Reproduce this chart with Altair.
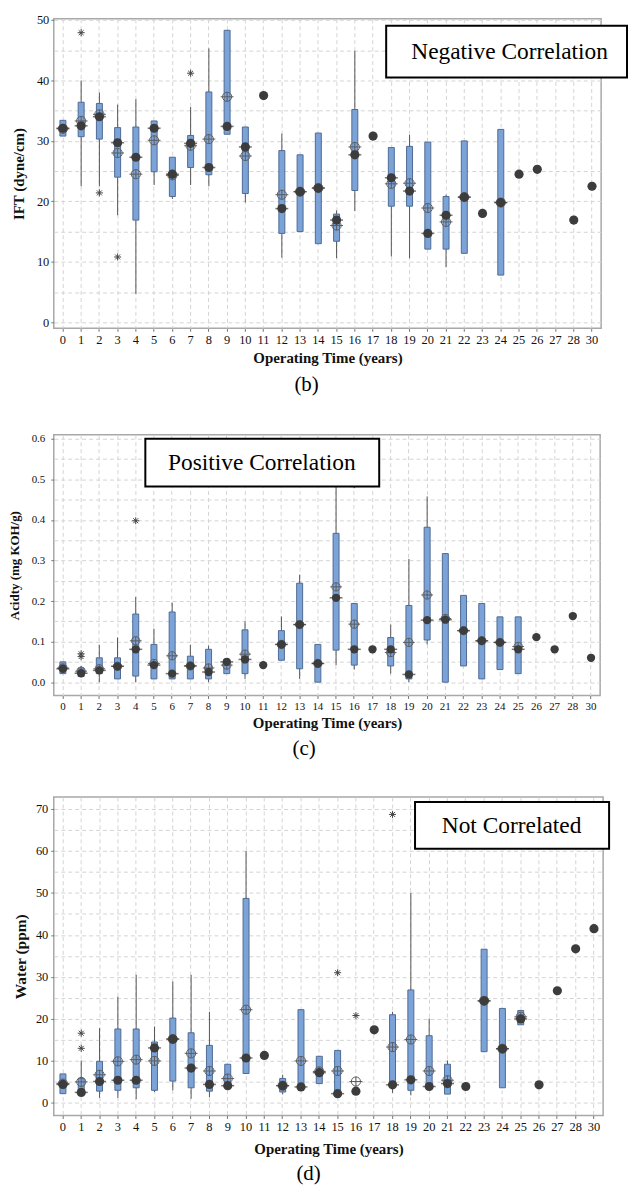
import altair as alt
import pandas as pd

SERIF = "Liberation Serif"

cats = [str(i) for i in range(29)] + ["30"]

# ---------------- Panel (b): IFT ----------------
b_lo = [30.8, 22.5, 22.5, 17.7, 4.7, 22.7, 20.4, 22.7, 22.5, 31.1, 19.8, None, 10.7, 15.0, 13.0, 10.6, 18.4, None,
        10.9, 10.6, 12.1, 9.1, 11.4, None, 7.8, None, None, None, None, None]
b_q1 = [30.8, 30.7, 30.3, 24.0, 16.9, 24.9, 20.8, 25.6, 24.4, 31.1, 21.3, None, 14.7, 15.0, 13.0, 13.4, 21.8, None,
        19.2, 19.2, 12.1, 12.1, 11.4, None, 7.8, None, None, None, None, None]
b_q3 = [33.4, 36.4, 36.2, 32.2, 32.3, 33.3, 27.3, 30.9, 38.1, 48.3, 32.3, None, 28.4, 27.7, 31.3, 17.9, 35.2, None,
        28.9, 29.1, 29.8, 20.8, 30.0, None, 31.9, None, None, None, None, None]
b_hi = [33.4, 40.0, 38.0, 36.0, 36.9, 33.3, 27.3, 35.6, 45.3, 48.3, 32.3, None, 31.2, 27.7, 31.3, 18.5, 44.9, None,
        28.9, 31.0, 29.8, 21.1, 30.0, None, 31.9, None, None, None, None, None]
b_med = [32.1, 32.5, 34.0, 29.7, 27.3, 32.1, 24.5, 29.6, 25.6, 32.4, 29.0, 37.5, 18.8, 21.6, 22.2, 16.9, 27.7, 30.8,
         23.9, 21.7, 14.7, 17.7, 20.7, 18.0, 19.8, 24.5, 25.3, None, 16.9, 22.5]
b_mean = [32.0, 33.3, 34.4, 28.0, 24.5, 30.1, 24.3, 29.2, 30.3, 37.3, 27.5, None, 21.1, 21.6, 22.2, 16.0, 29.0, None,
          22.9, 23.0, 18.9, 16.6, 20.7, None, 19.8, None, None, None, None, None]
b_out_cat = ["1", "2", "3", "7"]
b_out_val = [47.9, 21.4, 10.8, 41.2]
b_ticks = [0, 5, 10, 15, 20, 25, 30, 35, 40, 45, 50]

# ---------------- Panel (c): Acidity ----------------
c_lo = [0.021, 0.012, 0.0, 0.008, 0.0, 0.008, 0.008, 0.008, 0.0, 0.021, 0.008, None, 0.054, 0.008, 0.0, 0.042, 0.031,
        None, 0.021, 0.0, 0.093, 0.0, 0.04, 0.008, 0.031, 0.021, None, None, None, None]
c_q1 = [0.021, 0.014, 0.021, 0.008, 0.015, 0.008, 0.008, 0.008, 0.008, 0.021, 0.021, None, 0.054, 0.033, 0.0, 0.079,
        0.042, None, 0.04, 0.008, 0.104, 0.0, 0.04, 0.008, 0.031, 0.021, None, None, None, None]
c_q3 = [0.05, 0.035, 0.06, 0.06, 0.168, 0.093, 0.173, 0.064, 0.081, 0.057, 0.129, None, 0.127, 0.244, 0.093, 0.367,
        0.194, None, 0.11, 0.189, 0.382, 0.317, 0.214, 0.194, 0.161, 0.161, None, None, None, None]
c_hi = [0.05, 0.04, 0.092, 0.11, 0.21, 0.132, 0.196, 0.092, 0.09, 0.057, 0.15, None, 0.162, 0.265, 0.093, 0.49,
        0.194, None, 0.142, 0.304, 0.458, 0.317, 0.214, 0.194, 0.161, 0.161, None, None, None, None]
c_med = [0.033, 0.022, 0.029, 0.039, 0.081, 0.042, 0.021, 0.04, 0.025, 0.05, 0.056, 0.042, 0.093, 0.142, 0.046, 0.208,
         0.081, 0.081, 0.081, 0.019, 0.153, 0.154, 0.127, 0.102, 0.098, 0.081, 0.111, 0.081, 0.163, 0.06]
c_mean = [0.035, 0.027, 0.033, 0.039, 0.102, 0.046, 0.065, 0.04, 0.035, 0.042, 0.069, None, 0.093, 0.142, 0.046,
          0.235, 0.143, None, 0.073, 0.098, 0.215, 0.157, 0.127, 0.102, 0.098, 0.088, None, None, None, None]
c_out_cat = ["1", "1", "4", "16"]
c_out_val = [0.07, 0.063, 0.398, 0.487]
c_ticks = [0.0, 0.05, 0.1, 0.15, 0.2, 0.25, 0.3, 0.35, 0.4, 0.45, 0.5, 0.55, 0.6]

# ---------------- Panel (d): Water ----------------
d_lo = [2.2, 2.0, 1.2, 1.2, 0.9, 2.6, 3.0, 1.0, 1.4, 4.0, 7.0, None, 2.0, 3.8, 4.6, 2.0, None, None, 2.4, 1.8, 3.8,
        2.1, None, 12.2, 3.6, 18.6, None, None, None, None]
d_q1 = [2.2, 3.0, 2.8, 3.0, 3.6, 3.0, 5.2, 3.6, 2.8, 4.0, 7.0, None, 2.6, 3.8, 4.6, 2.0, None, None, 3.8, 3.0, 3.8,
        2.1, None, 12.2, 3.6, 18.6, None, None, None, None]
d_q3 = [6.9, 5.8, 9.9, 17.6, 17.6, 14.5, 20.2, 16.7, 13.7, 9.2, 48.7, None, 5.8, 22.2, 11.1, 12.5, None, None, 21.0,
        26.9, 16.0, 9.2, None, 36.6, 22.5, 22.0, None, None, None, None]
d_hi = [6.9, 10.1, 17.8, 25.3, 30.5, 18.2, 28.9, 30.5, 21.7, 9.2, 60.0, None, 6.7, 22.2, 11.1, 12.5, None, None, 21.7,
        50.0, 20.1, 10.1, None, 36.6, 22.5, 22.0, None, None, None, None]
d_med = [4.4, 2.5, 5.1, 5.4, 5.4, 13.1, 15.2, 8.3, 4.4, 4.1, 10.7, 11.3, 4.1, 3.8, 7.2, 2.2, 2.8, 17.4, 4.3, 5.5, 3.9,
         4.6, 3.9, 24.3, 12.9, 20.0, 4.3, 26.7, 36.7, 41.5]
d_mean = [4.6, 5.0, 6.7, 9.9, 10.3, 10.0, 15.2, 11.8, 7.6, 5.8, 22.2, None, 4.1, 10.0, 7.5, 7.6, 5.1, None, 13.3, 15.1,
          7.6, 5.4, None, 24.3, 12.9, 20.5, None, None, None, None]
d_out_cat = ["1", "1", "15", "16", "18"]
d_out_val = [16.6, 13.0, 31.0, 20.8, 68.7]
d_ticks = [0, 5, 10, 15, 20, 25, 30, 35, 40, 45, 50, 55, 60, 65, 70]

MEAN_SHAPE = "M-1,0A1,1,0,1,1,1,0A1,1,0,1,1,-1,0M-1.4,0L1.4,0M0,-1L0,1"
AST_SHAPE = "M-1,0L1,0M0,-1L0,1M-0.7,-0.7L0.7,0.7M-0.7,0.7L0.7,-0.7"
GRID = "#d4d4d4"


def panel(lo, q1, q3, hi, med, mean, out_cat, out_val, ticks, ydom, major_test, label_fmt, ytitle,
          w, h, lab_fs, lab_pad, ytitle_fs, ytitle_pad, xtitle_pad, dot, note, note_box, caption, cap_dx, cap_off):
    df = pd.DataFrame({"cat": cats, "lo": lo, "q1": q1, "q3": q3, "hi": hi, "med": med, "avg": mean})
    odf = pd.DataFrame({"cat": out_cat, "val": out_val})
    xs = alt.Scale(domain=cats, paddingInner=0, paddingOuter=0)
    ys = alt.Scale(domain=ydom, nice=False, zero=False)
    xaxis = alt.Axis(title="Operating Time (years)", labelAngle=0, bandPosition=0.5, grid=True,
                     gridDash=[4, 3], gridColor=GRID, domain=False, tickSize=3, tickColor="#777",
                     labelFont=SERIF, labelFontSize=lab_fs, labelColor="#111", labelPadding=2,
                     titleFont=SERIF, titleFontSize=15, titleFontWeight="bold", titleColor="#111",
                     titlePadding=xtitle_pad)
    yaxis = alt.Axis(title=ytitle, values=ticks, grid=True, gridDash=[4, 3], gridColor=GRID, domain=False,
                     tickSize=3, tickColor="#777",
                     tickOpacity={"condition": {"test": major_test, "value": 1}, "value": 0},
                     labelExpr=f"{major_test} ? format(datum.value, '{label_fmt}') : ''",
                     labelOverlap=False, labelFlush=False, labelFont=SERIF, labelFontSize=lab_fs,
                     labelColor="#111", labelPadding=lab_pad, titleFont=SERIF, titleFontSize=ytitle_fs,
                     titleFontWeight="bold", titleColor="#111", titlePadding=ytitle_pad)

    def X():
        return alt.X("cat:N", sort=cats, scale=xs, axis=xaxis)

    def Y(f):
        return alt.Y(f"{f}:Q", scale=ys, axis=yaxis)

    base = alt.Chart(df)
    whisk = base.transform_filter("isValid(datum.lo)").mark_rule(color="#555555", strokeWidth=1).encode(
        x=X(), y=Y("lo"), y2="hi:Q")
    box = base.transform_filter("isValid(datum.q1)").mark_bar(
        size=6, fill="#7ba3d8", stroke="#4f6b93", strokeWidth=1).encode(x=X(), y=Y("q1"), y2="q3:Q")
    meanm = base.transform_filter("isValid(datum.avg)").mark_point(
        shape=MEAN_SHAPE, size=dot, filled=False, color="#5c5c5c", strokeWidth=1, opacity=1).encode(
        x=X(), y=Y("avg"))
    medtick = base.transform_filter("isValid(datum.q1)").mark_tick(
        size=13, thickness=1.5, color="#3a3a3a").encode(x=X(), y=Y("med"))
    medm = base.transform_filter("isValid(datum.med)").mark_point(
        shape="circle", size=dot, filled=True, color="#3c3c3c", opacity=1).encode(x=X(), y=Y("med"))
    outm = alt.Chart(odf).mark_point(shape=AST_SHAPE, size=50, filled=False, color="#444444",
                                     strokeWidth=1, opacity=1).encode(x=X(), y=Y("val"))
    nd = alt.Data(values=[{"t": note}])
    x0, x1, y0, y1, tx, ty = note_box
    rect = alt.Chart(nd).mark_rect(fill="white", stroke="black", strokeWidth=2).encode(
        x=alt.value(x0), x2=alt.value(x1), y=alt.value(y0), y2=alt.value(y1))
    txt = alt.Chart(nd).mark_text(font=SERIF, fontSize=23.5, color="black", baseline="middle",
                                  align="center").encode(x=alt.value(tx), y=alt.value(ty), text="t:N")
    return alt.layer(whisk, box, meanm, medtick, medm, outm, rect, txt).properties(
        width=w, height=h,
        title=alt.TitleParams(text=caption, orient="bottom", font=SERIF, fontSize=21, fontWeight="normal",
                              color="black", dx=cap_dx, offset=cap_off))


pb = panel(b_lo, b_q1, b_q3, b_hi, b_med, b_mean, b_out_cat, b_out_val, b_ticks, [-1, 50.2],
           "datum.value % 10 === 0", ".0f", "IFT (dyne/cm)", 550, 311, 12.5, 2, 15, 9.5, 5, 85,
           "Negative Correlation", (334, 576, 7, 59, 458, 33), "(b)", -21, 8)
pc = panel(c_lo, c_q1, c_q3, c_hi, c_med, c_mean, c_out_cat, c_out_val, c_ticks, [-0.033, 0.61],
           "abs(datum.value * 10 - round(datum.value * 10)) < 0.001", ".1f", "Acidty (mg KOH/g)",
           549, 262, 11, 6, 13, 9.25, 4, 70, "Positive Correlation", (92, 327, 4, 52, 209, 28), "(c)", -23, 7.5)
pd_ = panel(d_lo, d_q1, d_q3, d_hi, d_med, d_mean, d_out_cat, d_out_val, d_ticks, [-3, 72.84],
            "datum.value % 10 === 0", ".0f", "Water (ppm)", 552, 320, 12.5, 3, 15.5, 7, 8.5, 85,
            "Not Correlated", (363, 558, 5, 52, 460, 29), "(d)", -20, 7)

chart = alt.vconcat(pb, pc, pd_, spacing=36).properties(
    padding={"top": 2, "left": 0, "right": 0, "bottom": 0}
).configure_view(stroke="#a8a8a8", strokeWidth=1.5)

chart.save("out.html", embed_options={"renderer": "svg", "actions": False})
